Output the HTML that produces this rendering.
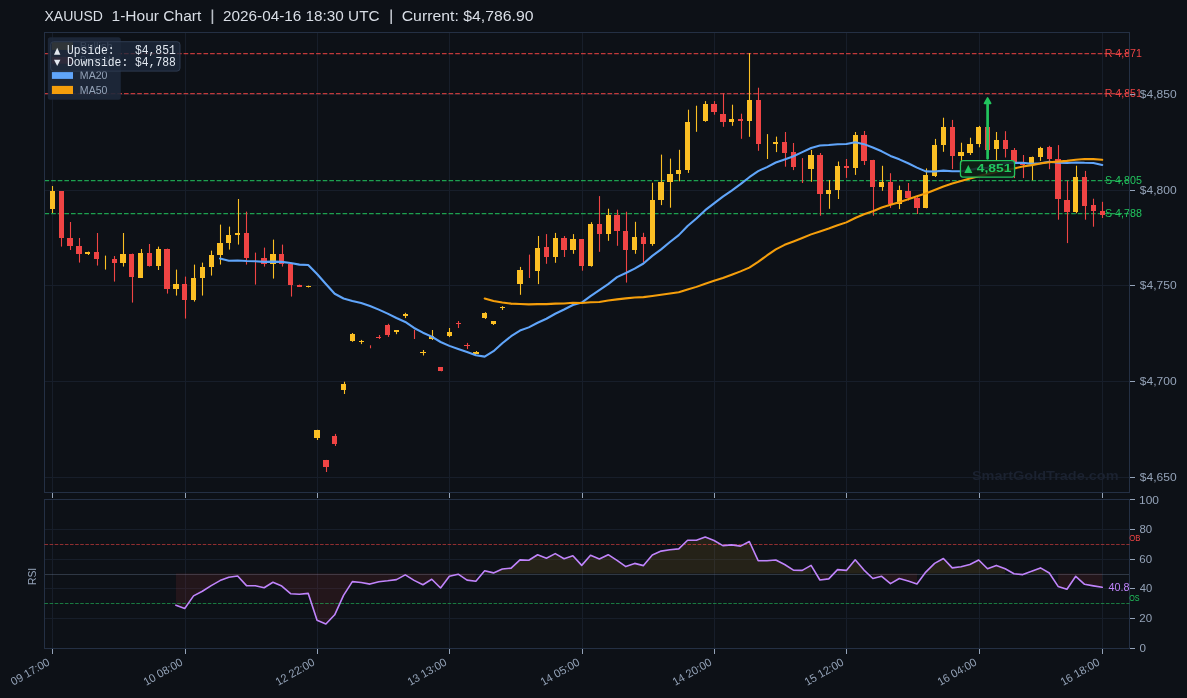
<!DOCTYPE html><html><head><meta charset="utf-8"><style>html,body{margin:0;padding:0;background:#0d1117;overflow:hidden}#w{will-change:transform;width:1187px;height:698px}svg{display:block}</style></head><body><div id="w">
<svg width="1187" height="698" viewBox="0 0 1187 698" font-family='"Liberation Sans", sans-serif'>
<rect x="0" y="0" width="1187" height="698" fill="#0d1117"/>
<g stroke="#171e2a" stroke-width="1">
<line x1="52.5" y1="32.5" x2="52.5" y2="492.5"/>
<line x1="52.5" y1="499.5" x2="52.5" y2="648.5"/>
<line x1="185.5" y1="32.5" x2="185.5" y2="492.5"/>
<line x1="185.5" y1="499.5" x2="185.5" y2="648.5"/>
<line x1="317.5" y1="32.5" x2="317.5" y2="492.5"/>
<line x1="317.5" y1="499.5" x2="317.5" y2="648.5"/>
<line x1="449.5" y1="32.5" x2="449.5" y2="492.5"/>
<line x1="449.5" y1="499.5" x2="449.5" y2="648.5"/>
<line x1="582.5" y1="32.5" x2="582.5" y2="492.5"/>
<line x1="582.5" y1="499.5" x2="582.5" y2="648.5"/>
<line x1="714.5" y1="32.5" x2="714.5" y2="492.5"/>
<line x1="714.5" y1="499.5" x2="714.5" y2="648.5"/>
<line x1="846.5" y1="32.5" x2="846.5" y2="492.5"/>
<line x1="846.5" y1="499.5" x2="846.5" y2="648.5"/>
<line x1="979.5" y1="32.5" x2="979.5" y2="492.5"/>
<line x1="979.5" y1="499.5" x2="979.5" y2="648.5"/>
<line x1="1102.5" y1="32.5" x2="1102.5" y2="492.5"/>
<line x1="1102.5" y1="499.5" x2="1102.5" y2="648.5"/>
<line x1="44.5" y1="94.5" x2="1129.5" y2="94.5"/>
<line x1="44.5" y1="190.5" x2="1129.5" y2="190.5"/>
<line x1="44.5" y1="285.5" x2="1129.5" y2="285.5"/>
<line x1="44.5" y1="381.5" x2="1129.5" y2="381.5"/>
<line x1="44.5" y1="477.5" x2="1129.5" y2="477.5"/>
<line x1="44.5" y1="618.5" x2="1129.5" y2="618.5"/>
<line x1="44.5" y1="588.5" x2="1129.5" y2="588.5"/>
<line x1="44.5" y1="559.5" x2="1129.5" y2="559.5"/>
<line x1="44.5" y1="529.5" x2="1129.5" y2="529.5"/>
</g>
<line x1="44.5" y1="574.5" x2="1129.5" y2="574.5" stroke="#64748b" stroke-opacity="0.4" stroke-width="1"/>
<polygon points="175.9,605.2 184.7,608.5 193.6,595.9 202.4,591.2 211.2,585.6 220.0,580.6 228.8,577.2 237.7,576.0 246.5,585.6 255.3,585.8 264.1,587.8 272.9,582.2 281.8,586.1 290.6,593.7 299.4,594.2 308.2,593.4 317.1,620.3 325.9,624.0 334.7,614.8 343.5,595.4 352.3,581.6 361.2,582.5 370.0,584.1 378.8,581.8 387.6,580.8 396.5,579.6 405.3,574.9 414.1,580.4 422.9,584.7 431.7,579.3 440.6,588.0 449.4,576.2 458.2,574.2 467.0,580.1 475.9,581.3 475.9,573.4 175.9,573.4" fill="#ef4444" fill-opacity="0.1"/>
<polygon points="819.9,580.0 828.7,578.9 828.7,573.4 819.9,573.4" fill="#ef4444" fill-opacity="0.1"/>
<polygon points="872.8,578.5 881.7,576.3 890.5,583.6 899.3,578.5 908.1,580.9 917.0,583.9 917.0,573.4 872.8,573.4" fill="#ef4444" fill-opacity="0.1"/>
<polygon points="1014.0,573.8 1022.8,574.6 1022.8,573.4 1014.0,573.4" fill="#ef4444" fill-opacity="0.1"/>
<polygon points="1058.1,586.4 1066.9,589.3 1075.8,576.3 1084.6,584.3 1093.4,585.9 1102.2,587.3 1102.2,573.4 1058.1,573.4" fill="#ef4444" fill-opacity="0.1"/>
<polygon points="484.7,570.7 493.5,572.9 502.3,569.0 511.1,568.1 520.0,559.9 528.8,560.2 537.6,554.8 546.4,558.2 555.3,553.6 564.1,558.7 572.9,555.7 581.7,565.4 590.5,555.3 599.4,559.0 608.2,554.7 617.0,560.4 625.8,566.6 634.7,563.4 643.5,565.6 652.3,555.0 661.1,551.1 669.9,549.8 678.8,548.9 687.6,540.2 696.4,540.2 705.2,537.1 714.0,540.5 722.9,545.6 731.7,544.9 740.5,546.1 749.3,541.5 758.2,560.7 767.0,560.7 775.8,560.0 784.6,564.5 793.4,570.1 802.3,570.4 811.1,565.4 811.1,573.4 484.7,573.4" fill="#fbbf24" fill-opacity="0.1"/>
<polygon points="837.6,569.6 846.4,570.4 855.2,559.8 864.0,570.1 864.0,573.4 837.6,573.4" fill="#fbbf24" fill-opacity="0.1"/>
<polygon points="925.8,572.1 934.6,563.4 943.4,558.5 952.2,567.9 961.1,566.7 969.9,564.5 978.7,560.0 987.5,568.8 996.4,565.4 1005.2,568.8 1005.2,573.4 925.8,573.4" fill="#fbbf24" fill-opacity="0.1"/>
<polygon points="1031.6,571.3 1040.5,567.9 1049.3,573.0 1049.3,573.4 1031.6,573.4" fill="#fbbf24" fill-opacity="0.1"/>
<line x1="44.5" y1="53.5" x2="1129.5" y2="53.5" stroke="#ef4444" stroke-opacity="0.8" stroke-width="1.25" stroke-dasharray="4.624 2.0"/>
<line x1="44.5" y1="93.5" x2="1129.5" y2="93.5" stroke="#ef4444" stroke-opacity="0.8" stroke-width="1.25" stroke-dasharray="4.624 2.0"/>
<line x1="44.5" y1="180.5" x2="1129.5" y2="180.5" stroke="#22c55e" stroke-opacity="0.8" stroke-width="1.25" stroke-dasharray="4.624 2.0"/>
<line x1="44.5" y1="213.5" x2="1129.5" y2="213.5" stroke="#22c55e" stroke-opacity="0.8" stroke-width="1.25" stroke-dasharray="4.624 2.0"/>
<text x="971.96" y="479.90" fill="#1b2230" font-size="12.5" font-family='"Liberation Sans", sans-serif' font-weight="bold" textLength="146.69" lengthAdjust="spacingAndGlyphs" xml:space="preserve">SmartGoldTrade.com</text>
<line x1="52.5" y1="186" x2="52.5" y2="213" stroke="#fbbf24" stroke-width="1.1"/>
<rect x="50" y="191" width="5" height="18" fill="#fbbf24"/>
<line x1="61.5" y1="191" x2="61.5" y2="246.6" stroke="#ef4444" stroke-width="1.1"/>
<rect x="59" y="191" width="5" height="47" fill="#ef4444"/>
<line x1="70.5" y1="222" x2="70.5" y2="250" stroke="#ef4444" stroke-width="1.1"/>
<rect x="67" y="238" width="6" height="8" fill="#ef4444"/>
<line x1="79.5" y1="238" x2="79.5" y2="262.6" stroke="#ef4444" stroke-width="1.1"/>
<rect x="76" y="246" width="6" height="8" fill="#ef4444"/>
<line x1="88.5" y1="251.6" x2="88.5" y2="255" stroke="#fbbf24" stroke-width="1.1"/>
<rect x="85" y="252" width="5" height="2" fill="#fbbf24"/>
<line x1="97.5" y1="233" x2="97.5" y2="265.6" stroke="#ef4444" stroke-width="1.1"/>
<rect x="94" y="252" width="5" height="7" fill="#ef4444"/>
<line x1="105.5" y1="255.6" x2="105.5" y2="269.6" stroke="#fbbf24" stroke-width="1.1"/>
<line x1="114.5" y1="256" x2="114.5" y2="281.6" stroke="#ef4444" stroke-width="1.1"/>
<rect x="112" y="259" width="5" height="4" fill="#ef4444"/>
<line x1="123.5" y1="233" x2="123.5" y2="266.6" stroke="#fbbf24" stroke-width="1.1"/>
<rect x="120" y="254" width="6" height="9" fill="#fbbf24"/>
<line x1="132.5" y1="253.6" x2="132.5" y2="302.6" stroke="#ef4444" stroke-width="1.1"/>
<rect x="129" y="254" width="5" height="23" fill="#ef4444"/>
<line x1="141.5" y1="249" x2="141.5" y2="278" stroke="#fbbf24" stroke-width="1.1"/>
<rect x="138" y="253" width="5" height="25" fill="#fbbf24"/>
<line x1="149.5" y1="244" x2="149.5" y2="266.6" stroke="#ef4444" stroke-width="1.1"/>
<rect x="147" y="253" width="5" height="13" fill="#ef4444"/>
<line x1="158.5" y1="246.6" x2="158.5" y2="270" stroke="#fbbf24" stroke-width="1.1"/>
<rect x="156" y="249" width="5" height="17" fill="#fbbf24"/>
<line x1="167.5" y1="248.6" x2="167.5" y2="293.6" stroke="#ef4444" stroke-width="1.1"/>
<rect x="164" y="249" width="6" height="40" fill="#ef4444"/>
<line x1="176.5" y1="269.6" x2="176.5" y2="295.6" stroke="#fbbf24" stroke-width="1.1"/>
<rect x="173" y="284" width="6" height="5" fill="#fbbf24"/>
<line x1="185.5" y1="276.6" x2="185.5" y2="318.6" stroke="#ef4444" stroke-width="1.1"/>
<rect x="182" y="284" width="5" height="16" fill="#ef4444"/>
<line x1="194.5" y1="264.6" x2="194.5" y2="301.6" stroke="#fbbf24" stroke-width="1.1"/>
<rect x="191" y="278" width="5" height="22" fill="#fbbf24"/>
<line x1="202.5" y1="262.6" x2="202.5" y2="295.6" stroke="#fbbf24" stroke-width="1.1"/>
<rect x="200" y="267" width="5" height="11" fill="#fbbf24"/>
<line x1="211.5" y1="250.6" x2="211.5" y2="275.6" stroke="#fbbf24" stroke-width="1.1"/>
<rect x="209" y="255" width="5" height="12" fill="#fbbf24"/>
<line x1="220.5" y1="224.6" x2="220.5" y2="264.6" stroke="#fbbf24" stroke-width="1.1"/>
<rect x="217" y="243" width="6" height="12" fill="#fbbf24"/>
<line x1="229.5" y1="226.6" x2="229.5" y2="249.6" stroke="#fbbf24" stroke-width="1.1"/>
<rect x="226" y="235" width="5" height="8" fill="#fbbf24"/>
<line x1="238.5" y1="199" x2="238.5" y2="244.6" stroke="#fbbf24" stroke-width="1.1"/>
<rect x="235" y="233" width="5" height="2" fill="#fbbf24"/>
<line x1="246.5" y1="211.6" x2="246.5" y2="264.6" stroke="#ef4444" stroke-width="1.1"/>
<rect x="244" y="233" width="5" height="25" fill="#ef4444"/>
<line x1="255.5" y1="252.6" x2="255.5" y2="284.6" stroke="#ef4444" stroke-width="1.1"/>
<line x1="264.5" y1="247.6" x2="264.5" y2="266.6" stroke="#ef4444" stroke-width="1.1"/>
<rect x="261" y="258" width="6" height="6" fill="#ef4444"/>
<line x1="273.5" y1="239.6" x2="273.5" y2="278.6" stroke="#fbbf24" stroke-width="1.1"/>
<rect x="270" y="254" width="6" height="10" fill="#fbbf24"/>
<line x1="282.5" y1="244.6" x2="282.5" y2="266.6" stroke="#ef4444" stroke-width="1.1"/>
<rect x="279" y="254" width="5" height="10" fill="#ef4444"/>
<line x1="291.5" y1="263.6" x2="291.5" y2="296.6" stroke="#ef4444" stroke-width="1.1"/>
<rect x="288" y="264" width="5" height="21" fill="#ef4444"/>
<line x1="299.5" y1="284.6" x2="299.5" y2="287" stroke="#ef4444" stroke-width="1.1"/>
<rect x="297" y="285" width="5" height="2" fill="#ef4444"/>
<line x1="308.5" y1="285.6" x2="308.5" y2="287.5" stroke="#fbbf24" stroke-width="1.1"/>
<rect x="306" y="286" width="5" height="1" fill="#fbbf24"/>
<line x1="317.5" y1="429.8" x2="317.5" y2="440" stroke="#fbbf24" stroke-width="1.1"/>
<rect x="314" y="430" width="6" height="8" fill="#fbbf24"/>
<line x1="326.5" y1="459.9" x2="326.5" y2="472" stroke="#ef4444" stroke-width="1.1"/>
<rect x="323" y="460" width="6" height="7" fill="#ef4444"/>
<line x1="335.5" y1="433.9" x2="335.5" y2="446" stroke="#ef4444" stroke-width="1.1"/>
<rect x="332" y="436" width="5" height="8" fill="#ef4444"/>
<line x1="344.5" y1="381.7" x2="344.5" y2="394" stroke="#fbbf24" stroke-width="1.1"/>
<rect x="341" y="384" width="5" height="6" fill="#fbbf24"/>
<line x1="352.5" y1="333" x2="352.5" y2="341.8" stroke="#fbbf24" stroke-width="1.1"/>
<rect x="350" y="334" width="5" height="7" fill="#fbbf24"/>
<line x1="361.5" y1="339.9" x2="361.5" y2="344.1" stroke="#fbbf24" stroke-width="1.1"/>
<rect x="359" y="341" width="5" height="1" fill="#fbbf24"/>
<line x1="370.5" y1="345.3" x2="370.5" y2="348.3" stroke="#ef4444" stroke-width="1.1"/>
<line x1="379.5" y1="335" x2="379.5" y2="339" stroke="#ef4444" stroke-width="1.1"/>
<rect x="376" y="337" width="5" height="1" fill="#ef4444"/>
<line x1="388.5" y1="323.8" x2="388.5" y2="336.9" stroke="#ef4444" stroke-width="1.1"/>
<rect x="385" y="325" width="5" height="10" fill="#ef4444"/>
<line x1="396.5" y1="330" x2="396.5" y2="334.2" stroke="#fbbf24" stroke-width="1.1"/>
<rect x="394" y="330" width="5" height="2" fill="#fbbf24"/>
<line x1="405.5" y1="312.8" x2="405.5" y2="318.1" stroke="#fbbf24" stroke-width="1.1"/>
<rect x="403" y="314" width="5" height="2" fill="#fbbf24"/>
<line x1="414.5" y1="330" x2="414.5" y2="339" stroke="#ef4444" stroke-width="1.1"/>
<line x1="423.5" y1="350" x2="423.5" y2="355.5" stroke="#fbbf24" stroke-width="1.1"/>
<rect x="420" y="352" width="6" height="1" fill="#fbbf24"/>
<line x1="432.5" y1="330" x2="432.5" y2="340" stroke="#fbbf24" stroke-width="1.1"/>
<rect x="429" y="336" width="5" height="3" fill="#fbbf24"/>
<line x1="441.5" y1="367.4" x2="441.5" y2="371.3" stroke="#ef4444" stroke-width="1.1"/>
<rect x="438" y="367" width="5" height="4" fill="#ef4444"/>
<line x1="449.5" y1="328" x2="449.5" y2="337.1" stroke="#fbbf24" stroke-width="1.1"/>
<rect x="447" y="332" width="5" height="4" fill="#fbbf24"/>
<line x1="458.5" y1="321" x2="458.5" y2="328" stroke="#ef4444" stroke-width="1.1"/>
<rect x="456" y="323" width="5" height="1" fill="#ef4444"/>
<line x1="467.5" y1="342.9" x2="467.5" y2="349.1" stroke="#ef4444" stroke-width="1.1"/>
<rect x="464" y="345" width="6" height="1" fill="#ef4444"/>
<line x1="476.5" y1="351" x2="476.5" y2="354.1" stroke="#fbbf24" stroke-width="1.1"/>
<rect x="473" y="352" width="6" height="2" fill="#fbbf24"/>
<line x1="485.5" y1="312.2" x2="485.5" y2="319" stroke="#fbbf24" stroke-width="1.1"/>
<rect x="482" y="313" width="5" height="5" fill="#fbbf24"/>
<line x1="493.5" y1="321" x2="493.5" y2="325" stroke="#fbbf24" stroke-width="1.1"/>
<rect x="491" y="321" width="5" height="3" fill="#fbbf24"/>
<line x1="502.5" y1="306.1" x2="502.5" y2="310" stroke="#fbbf24" stroke-width="1.1"/>
<rect x="500" y="307" width="5" height="1" fill="#fbbf24"/>
<line x1="511.5" y1="303" x2="511.5" y2="304.5" stroke="#ef4444" stroke-width="1.1"/>
<rect x="508" y="303" width="6" height="1" fill="#ef4444"/>
<line x1="520.5" y1="266.9" x2="520.5" y2="294.8" stroke="#fbbf24" stroke-width="1.1"/>
<rect x="517" y="270" width="6" height="14" fill="#fbbf24"/>
<line x1="529.5" y1="254.6" x2="529.5" y2="278" stroke="#ef4444" stroke-width="1.1"/>
<line x1="538.5" y1="236" x2="538.5" y2="284.1" stroke="#fbbf24" stroke-width="1.1"/>
<rect x="535" y="248" width="5" height="23" fill="#fbbf24"/>
<line x1="546.5" y1="234.1" x2="546.5" y2="263.8" stroke="#ef4444" stroke-width="1.1"/>
<rect x="544" y="247" width="5" height="10" fill="#ef4444"/>
<line x1="555.5" y1="232.9" x2="555.5" y2="262.8" stroke="#fbbf24" stroke-width="1.1"/>
<rect x="553" y="238" width="5" height="19" fill="#fbbf24"/>
<line x1="564.5" y1="236" x2="564.5" y2="257" stroke="#ef4444" stroke-width="1.1"/>
<rect x="561" y="238" width="6" height="12" fill="#ef4444"/>
<line x1="573.5" y1="234.1" x2="573.5" y2="253.8" stroke="#fbbf24" stroke-width="1.1"/>
<rect x="570" y="239" width="6" height="11" fill="#fbbf24"/>
<line x1="582.5" y1="239.2" x2="582.5" y2="270.7" stroke="#ef4444" stroke-width="1.1"/>
<rect x="579" y="239" width="5" height="27" fill="#ef4444"/>
<line x1="591.5" y1="222.2" x2="591.5" y2="266.7" stroke="#fbbf24" stroke-width="1.1"/>
<rect x="588" y="224" width="5" height="42" fill="#fbbf24"/>
<line x1="599.5" y1="196.1" x2="599.5" y2="251.8" stroke="#ef4444" stroke-width="1.1"/>
<rect x="597" y="224" width="5" height="10" fill="#ef4444"/>
<line x1="608.5" y1="208.7" x2="608.5" y2="240.8" stroke="#fbbf24" stroke-width="1.1"/>
<rect x="606" y="215" width="5" height="19" fill="#fbbf24"/>
<line x1="617.5" y1="209.7" x2="617.5" y2="245.8" stroke="#ef4444" stroke-width="1.1"/>
<rect x="614" y="215" width="6" height="16" fill="#ef4444"/>
<line x1="626.5" y1="211.7" x2="626.5" y2="282.6" stroke="#ef4444" stroke-width="1.1"/>
<rect x="623" y="231" width="5" height="19" fill="#ef4444"/>
<line x1="635.5" y1="221.8" x2="635.5" y2="253.8" stroke="#fbbf24" stroke-width="1.1"/>
<rect x="632" y="237" width="5" height="13" fill="#fbbf24"/>
<line x1="643.5" y1="232.8" x2="643.5" y2="262.5" stroke="#ef4444" stroke-width="1.1"/>
<rect x="641" y="237" width="5" height="7" fill="#ef4444"/>
<line x1="652.5" y1="182.7" x2="652.5" y2="245.8" stroke="#fbbf24" stroke-width="1.1"/>
<rect x="650" y="200" width="5" height="44" fill="#fbbf24"/>
<line x1="661.5" y1="154.6" x2="661.5" y2="205.1" stroke="#fbbf24" stroke-width="1.1"/>
<rect x="658" y="182" width="6" height="18" fill="#fbbf24"/>
<line x1="670.5" y1="158.6" x2="670.5" y2="207.7" stroke="#fbbf24" stroke-width="1.1"/>
<rect x="667" y="174" width="6" height="8" fill="#fbbf24"/>
<line x1="679.5" y1="149.8" x2="679.5" y2="181.3" stroke="#fbbf24" stroke-width="1.1"/>
<rect x="676" y="170" width="5" height="4" fill="#fbbf24"/>
<line x1="688.5" y1="109.7" x2="688.5" y2="172.9" stroke="#fbbf24" stroke-width="1.1"/>
<rect x="685" y="122" width="5" height="48" fill="#fbbf24"/>
<line x1="696.5" y1="105.7" x2="696.5" y2="131.8" stroke="#fbbf24" stroke-width="1.1"/>
<line x1="705.5" y1="101.1" x2="705.5" y2="121.8" stroke="#fbbf24" stroke-width="1.1"/>
<rect x="703" y="104" width="5" height="17" fill="#fbbf24"/>
<line x1="714.5" y1="101.1" x2="714.5" y2="114.7" stroke="#ef4444" stroke-width="1.1"/>
<rect x="711" y="104" width="6" height="8" fill="#ef4444"/>
<line x1="723.5" y1="93.1" x2="723.5" y2="126.8" stroke="#ef4444" stroke-width="1.1"/>
<rect x="720" y="114" width="6" height="8" fill="#ef4444"/>
<line x1="732.5" y1="104.7" x2="732.5" y2="125.8" stroke="#fbbf24" stroke-width="1.1"/>
<rect x="729" y="119" width="5" height="3" fill="#fbbf24"/>
<line x1="741.5" y1="113.7" x2="741.5" y2="138.8" stroke="#ef4444" stroke-width="1.1"/>
<rect x="738" y="119" width="5" height="2" fill="#ef4444"/>
<line x1="749.5" y1="53" x2="749.5" y2="136.8" stroke="#fbbf24" stroke-width="1.1"/>
<rect x="747" y="100" width="5" height="21" fill="#fbbf24"/>
<line x1="758.5" y1="87.7" x2="758.5" y2="150.8" stroke="#ef4444" stroke-width="1.1"/>
<rect x="756" y="100" width="5" height="44" fill="#ef4444"/>
<line x1="767.5" y1="134.1" x2="767.5" y2="159" stroke="#fbbf24" stroke-width="1.1"/>
<line x1="776.5" y1="136.6" x2="776.5" y2="152.1" stroke="#fbbf24" stroke-width="1.1"/>
<rect x="773" y="142" width="5" height="2" fill="#fbbf24"/>
<line x1="785.5" y1="132" x2="785.5" y2="166.7" stroke="#ef4444" stroke-width="1.1"/>
<rect x="782" y="142" width="5" height="11" fill="#ef4444"/>
<line x1="793.5" y1="143" x2="793.5" y2="170.1" stroke="#ef4444" stroke-width="1.1"/>
<rect x="791" y="152" width="5" height="15" fill="#ef4444"/>
<line x1="802.5" y1="158.1" x2="802.5" y2="183" stroke="#ef4444" stroke-width="1.1"/>
<line x1="811.5" y1="149.9" x2="811.5" y2="181.8" stroke="#fbbf24" stroke-width="1.1"/>
<rect x="808" y="155" width="6" height="14" fill="#fbbf24"/>
<line x1="820.5" y1="153" x2="820.5" y2="215.7" stroke="#ef4444" stroke-width="1.1"/>
<rect x="817" y="155" width="6" height="39" fill="#ef4444"/>
<line x1="829.5" y1="180.1" x2="829.5" y2="208.8" stroke="#fbbf24" stroke-width="1.1"/>
<rect x="826" y="190" width="5" height="4" fill="#fbbf24"/>
<line x1="838.5" y1="161.5" x2="838.5" y2="199" stroke="#fbbf24" stroke-width="1.1"/>
<rect x="835" y="166" width="5" height="24" fill="#fbbf24"/>
<line x1="846.5" y1="159" x2="846.5" y2="177.9" stroke="#ef4444" stroke-width="1.1"/>
<rect x="844" y="166" width="5" height="2" fill="#ef4444"/>
<line x1="855.5" y1="132" x2="855.5" y2="174.9" stroke="#fbbf24" stroke-width="1.1"/>
<rect x="853" y="135" width="5" height="33" fill="#fbbf24"/>
<line x1="864.5" y1="131" x2="864.5" y2="165" stroke="#ef4444" stroke-width="1.1"/>
<rect x="861" y="135" width="6" height="26" fill="#ef4444"/>
<line x1="873.5" y1="159.8" x2="873.5" y2="215.7" stroke="#ef4444" stroke-width="1.1"/>
<rect x="870" y="160" width="5" height="27" fill="#ef4444"/>
<line x1="882.5" y1="165.8" x2="882.5" y2="190.8" stroke="#fbbf24" stroke-width="1.1"/>
<rect x="879" y="182" width="5" height="5" fill="#fbbf24"/>
<line x1="890.5" y1="173.2" x2="890.5" y2="207.9" stroke="#ef4444" stroke-width="1.1"/>
<rect x="888" y="182" width="5" height="22" fill="#ef4444"/>
<line x1="899.5" y1="185.6" x2="899.5" y2="209.1" stroke="#fbbf24" stroke-width="1.1"/>
<rect x="897" y="190" width="5" height="14" fill="#fbbf24"/>
<line x1="908.5" y1="183" x2="908.5" y2="200.5" stroke="#ef4444" stroke-width="1.1"/>
<rect x="905" y="191" width="6" height="7" fill="#ef4444"/>
<line x1="917.5" y1="197.1" x2="917.5" y2="214" stroke="#ef4444" stroke-width="1.1"/>
<rect x="914" y="198" width="6" height="10" fill="#ef4444"/>
<line x1="926.5" y1="168.4" x2="926.5" y2="208.3" stroke="#fbbf24" stroke-width="1.1"/>
<rect x="923" y="175" width="5" height="33" fill="#fbbf24"/>
<line x1="935.5" y1="138.9" x2="935.5" y2="177" stroke="#fbbf24" stroke-width="1.1"/>
<rect x="932" y="145" width="5" height="31" fill="#fbbf24"/>
<line x1="943.5" y1="117.7" x2="943.5" y2="151.8" stroke="#fbbf24" stroke-width="1.1"/>
<rect x="941" y="127" width="5" height="18" fill="#fbbf24"/>
<line x1="952.5" y1="119.9" x2="952.5" y2="169.1" stroke="#ef4444" stroke-width="1.1"/>
<rect x="950" y="127" width="5" height="29" fill="#ef4444"/>
<line x1="961.5" y1="142.7" x2="961.5" y2="165" stroke="#fbbf24" stroke-width="1.1"/>
<rect x="958" y="152" width="6" height="4" fill="#fbbf24"/>
<line x1="970.5" y1="137.7" x2="970.5" y2="155" stroke="#fbbf24" stroke-width="1.1"/>
<rect x="967" y="144" width="6" height="9" fill="#fbbf24"/>
<line x1="979.5" y1="125.9" x2="979.5" y2="147.3" stroke="#fbbf24" stroke-width="1.1"/>
<rect x="976" y="127" width="5" height="17" fill="#fbbf24"/>
<line x1="988.5" y1="127" x2="988.5" y2="152" stroke="#ef4444" stroke-width="1.1"/>
<rect x="985" y="127" width="5" height="23" fill="#ef4444"/>
<line x1="996.5" y1="132" x2="996.5" y2="160.5" stroke="#fbbf24" stroke-width="1.1"/>
<rect x="994" y="140" width="5" height="9" fill="#fbbf24"/>
<line x1="1005.5" y1="131.2" x2="1005.5" y2="157.5" stroke="#ef4444" stroke-width="1.1"/>
<rect x="1003" y="140" width="5" height="9" fill="#ef4444"/>
<line x1="1014.5" y1="148" x2="1014.5" y2="178.1" stroke="#ef4444" stroke-width="1.1"/>
<rect x="1011" y="150" width="6" height="12" fill="#ef4444"/>
<line x1="1023.5" y1="155" x2="1023.5" y2="178.1" stroke="#ef4444" stroke-width="1.1"/>
<rect x="1020" y="164" width="5" height="1" fill="#ef4444"/>
<line x1="1032.5" y1="156.6" x2="1032.5" y2="180.3" stroke="#fbbf24" stroke-width="1.1"/>
<rect x="1029" y="157" width="5" height="6" fill="#fbbf24"/>
<line x1="1040.5" y1="146.8" x2="1040.5" y2="160.9" stroke="#fbbf24" stroke-width="1.1"/>
<rect x="1038" y="148" width="5" height="9" fill="#fbbf24"/>
<line x1="1049.5" y1="145.8" x2="1049.5" y2="169.2" stroke="#ef4444" stroke-width="1.1"/>
<rect x="1047" y="147" width="5" height="12" fill="#ef4444"/>
<line x1="1058.5" y1="145.1" x2="1058.5" y2="219.7" stroke="#ef4444" stroke-width="1.1"/>
<rect x="1055" y="159" width="6" height="40" fill="#ef4444"/>
<line x1="1067.5" y1="180.7" x2="1067.5" y2="243.1" stroke="#ef4444" stroke-width="1.1"/>
<rect x="1064" y="200" width="6" height="12" fill="#ef4444"/>
<line x1="1076.5" y1="165.7" x2="1076.5" y2="213.3" stroke="#fbbf24" stroke-width="1.1"/>
<rect x="1073" y="177" width="5" height="35" fill="#fbbf24"/>
<line x1="1085.5" y1="170.9" x2="1085.5" y2="219.7" stroke="#ef4444" stroke-width="1.1"/>
<rect x="1082" y="177" width="5" height="29" fill="#ef4444"/>
<line x1="1093.5" y1="198.7" x2="1093.5" y2="226.7" stroke="#ef4444" stroke-width="1.1"/>
<rect x="1091" y="205" width="5" height="6" fill="#ef4444"/>
<line x1="1102.5" y1="201.8" x2="1102.5" y2="218" stroke="#ef4444" stroke-width="1.1"/>
<rect x="1100" y="211" width="5" height="4" fill="#ef4444"/>
<polyline points="220.02,258.55 228.84,260.75 237.66,260.48 246.48,261.08 255.31,261.28 264.13,261.88 272.95,261.63 281.77,261.88 290.59,262.98 299.42,264.63 308.24,265.08 317.06,273.94 325.88,283.99 334.70,293.76 343.53,298.53 352.35,301.02 361.17,303.09 369.99,306.05 378.81,309.62 387.64,313.63 396.46,317.99 405.28,321.95 414.10,327.97 422.92,332.69 431.75,336.60 440.57,341.99 449.39,345.88 458.21,348.92 467.03,352.00 475.86,355.26 484.68,356.64 493.50,351.20 502.32,343.20 511.14,336.23 519.97,330.52 528.79,327.39 537.61,322.75 546.43,318.76 555.25,313.76 564.08,309.51 572.90,304.97 581.72,302.56 590.54,296.09 599.36,290.19 608.19,284.13 617.01,277.11 625.83,273.02 634.65,268.64 643.47,263.52 652.30,255.91 661.12,249.34 669.94,241.97 678.76,235.11 687.58,225.97 696.41,218.54 705.23,210.19 714.05,203.37 722.87,196.61 731.69,190.64 740.52,184.19 749.34,177.21 758.16,171.10 766.98,167.10 775.80,162.50 784.63,159.40 793.45,156.19 802.27,152.14 811.09,148.06 819.91,145.56 828.74,145.05 837.56,144.24 846.38,143.94 855.20,142.19 864.02,144.15 872.85,147.43 881.67,151.32 890.49,155.93 899.31,159.34 908.13,163.28 916.96,167.64 925.78,171.39 934.60,171.44 943.42,170.60 952.24,171.30 961.07,171.26 969.89,170.12 978.71,168.02 987.53,167.78 996.35,165.09 1005.18,163.06 1014.00,162.91 1022.82,162.79 1031.64,163.88 1040.46,163.23 1049.29,161.83 1058.11,162.68 1066.93,163.08 1075.75,162.43 1084.57,162.82 1093.40,162.97 1102.22,164.98" fill="none" stroke="#60a5fa" stroke-width="2.08" stroke-linejoin="round" stroke-linecap="round"/>
<polyline points="484.68,298.49 493.50,301.09 502.32,302.47 511.14,303.64 519.97,303.97 528.79,304.36 537.61,304.15 546.43,304.12 555.25,303.63 564.08,303.55 572.90,302.81 581.72,303.07 590.54,302.23 599.36,301.93 608.19,300.46 617.01,299.39 625.83,298.40 634.65,297.58 643.47,297.12 652.30,296.03 661.12,294.80 669.94,293.57 678.76,292.32 687.58,289.60 696.41,286.87 705.23,283.68 714.05,280.85 722.87,278.01 731.69,274.69 740.52,271.38 749.34,267.66 758.16,261.94 766.98,255.47 775.80,249.43 784.63,244.80 793.45,241.46 802.27,238.02 811.09,234.38 819.91,231.50 828.74,228.59 837.56,225.30 846.38,222.37 855.20,218.01 864.02,214.19 872.85,211.21 881.67,207.42 890.49,204.87 899.31,202.18 908.13,199.21 916.96,196.32 925.78,193.56 934.60,190.03 943.42,186.43 952.24,183.46 961.07,181.10 969.89,178.55 978.71,176.13 987.53,173.99 996.35,172.03 1005.18,170.01 1014.00,168.48 1022.82,166.46 1031.64,165.12 1040.46,163.40 1049.29,162.29 1058.11,161.65 1066.93,160.89 1075.75,159.69 1084.57,158.93 1093.40,159.15 1102.22,159.82" fill="none" stroke="#f59e0b" stroke-width="2.08" stroke-linejoin="round" stroke-linecap="round"/>
<text x="1104.65" y="57.40" fill="#ef4444" font-size="11.2" font-family='"Liberation Sans", sans-serif' textLength="37.26" lengthAdjust="spacingAndGlyphs" xml:space="preserve">R 4,871</text>
<text x="1104.65" y="97.40" fill="#ef4444" font-size="11.2" font-family='"Liberation Sans", sans-serif' textLength="37.26" lengthAdjust="spacingAndGlyphs" xml:space="preserve">R 4,851</text>
<text x="1105.02" y="184.40" fill="#22c55e" font-size="11.2" font-family='"Liberation Sans", sans-serif' textLength="36.83" lengthAdjust="spacingAndGlyphs" xml:space="preserve">S 4,805</text>
<text x="1105.02" y="217.40" fill="#22c55e" font-size="11.2" font-family='"Liberation Sans", sans-serif' textLength="36.83" lengthAdjust="spacingAndGlyphs" xml:space="preserve">S 4,788</text>
<line x1="987.6" y1="158.3" x2="987.6" y2="102" stroke="#22c55e" stroke-width="2.7" stroke-linecap="round"/>
<path d="M987.6,97.9 L990.7,103.4 L984.5,103.4 Z" fill="#22c55e" stroke="#22c55e" stroke-width="1.6" stroke-linejoin="round"/>
<rect x="960.45" y="160.65" width="54.1" height="16.4" rx="2.5" fill="#0f2216" fill-opacity="0.88" stroke="#22c55e" stroke-width="1.3"/>
<path d="M968.3,165.1 L972.3,173.1 L964.3,173.1 Z" fill="#22c55e"/>
<text x="976.69" y="171.70" fill="#22c55e" font-size="11.2" font-family='"Liberation Sans", sans-serif' font-weight="bold" textLength="34.79" lengthAdjust="spacingAndGlyphs" xml:space="preserve">4,851</text>
<rect x="47.8" y="37.2" width="73" height="62.5" rx="2.5" fill="#1e293b" fill-opacity="0.9"/>
<rect x="51.9" y="42.2" width="21.1" height="7.7" fill="#fbbf24" fill-opacity="0.4"/>
<text x="79.81" y="49.65" fill="#94a3b8" font-size="10" font-family='"Liberation Sans", sans-serif' textLength="32.93" lengthAdjust="spacingAndGlyphs" xml:space="preserve">Bullish</text>
<rect x="51.9" y="56.9" width="21.1" height="6.8" fill="#ef4444" fill-opacity="0.35"/>
<text x="79.90" y="63.90" fill="#94a3b8" font-size="10" font-family='"Liberation Sans", sans-serif' textLength="33.96" lengthAdjust="spacingAndGlyphs" xml:space="preserve">Bearish</text>
<rect x="51.9" y="72.1" width="21.1" height="6.8" fill="#60a5fa" fill-opacity="1"/>
<text x="79.86" y="79.10" fill="#94a3b8" font-size="10" font-family='"Liberation Sans", sans-serif' textLength="27.54" lengthAdjust="spacingAndGlyphs" xml:space="preserve">MA20</text>
<rect x="51.9" y="85.9" width="21.1" height="8.1" fill="#f59e0b" fill-opacity="1"/>
<text x="79.86" y="93.55" fill="#94a3b8" font-size="10" font-family='"Liberation Sans", sans-serif' textLength="27.54" lengthAdjust="spacingAndGlyphs" xml:space="preserve">MA50</text>
<rect x="50.6" y="41.7" width="129.4" height="29.4" rx="3" fill="#1e293b" fill-opacity="0.78" stroke="#2e3b50" stroke-width="1"/>
<path d="M57.2,47.8 L60.4,54.7 L54,54.7 Z" fill="#e2e8f0"/>
<path d="M57.2,65.9 L60.4,59.8 L54,59.8 Z" fill="#e2e8f0"/>
<text x="67.01" y="53.70" fill="#e2e8f0" font-size="12.2" font-family='"Liberation Mono", monospace' textLength="108.77" lengthAdjust="spacingAndGlyphs" xml:space="preserve">Upside:   $4,851</text>
<text x="66.89" y="65.80" fill="#e2e8f0" font-size="12.2" font-family='"Liberation Mono", monospace' textLength="109.06" lengthAdjust="spacingAndGlyphs" xml:space="preserve">Downside: $4,788</text>
<rect x="44.5" y="32.5" width="1085.0" height="460.0" fill="none" stroke="#243044" stroke-width="1"/>
<rect x="44.5" y="499.5" width="1085.0" height="149.0" fill="none" stroke="#243044" stroke-width="1"/>
<g stroke="#94a3b8" stroke-width="1">
<line x1="52.5" y1="493.0" x2="52.5" y2="498.0"/>
<line x1="52.5" y1="649.0" x2="52.5" y2="654.0"/>
<line x1="185.5" y1="493.0" x2="185.5" y2="498.0"/>
<line x1="185.5" y1="649.0" x2="185.5" y2="654.0"/>
<line x1="317.5" y1="493.0" x2="317.5" y2="498.0"/>
<line x1="317.5" y1="649.0" x2="317.5" y2="654.0"/>
<line x1="449.5" y1="493.0" x2="449.5" y2="498.0"/>
<line x1="449.5" y1="649.0" x2="449.5" y2="654.0"/>
<line x1="582.5" y1="493.0" x2="582.5" y2="498.0"/>
<line x1="582.5" y1="649.0" x2="582.5" y2="654.0"/>
<line x1="714.5" y1="493.0" x2="714.5" y2="498.0"/>
<line x1="714.5" y1="649.0" x2="714.5" y2="654.0"/>
<line x1="846.5" y1="493.0" x2="846.5" y2="498.0"/>
<line x1="846.5" y1="649.0" x2="846.5" y2="654.0"/>
<line x1="979.5" y1="493.0" x2="979.5" y2="498.0"/>
<line x1="979.5" y1="649.0" x2="979.5" y2="654.0"/>
<line x1="1102.5" y1="493.0" x2="1102.5" y2="498.0"/>
<line x1="1102.5" y1="649.0" x2="1102.5" y2="654.0"/>
<line x1="1130.0" y1="94.5" x2="1135.0" y2="94.5"/>
<line x1="1130.0" y1="190.5" x2="1135.0" y2="190.5"/>
<line x1="1130.0" y1="285.5" x2="1135.0" y2="285.5"/>
<line x1="1130.0" y1="381.5" x2="1135.0" y2="381.5"/>
<line x1="1130.0" y1="477.5" x2="1135.0" y2="477.5"/>
<line x1="1130.0" y1="499.5" x2="1135.0" y2="499.5"/>
<line x1="1130.0" y1="529.5" x2="1135.0" y2="529.5"/>
<line x1="1130.0" y1="559.5" x2="1135.0" y2="559.5"/>
<line x1="1130.0" y1="588.5" x2="1135.0" y2="588.5"/>
<line x1="1130.0" y1="618.5" x2="1135.0" y2="618.5"/>
<line x1="1130.0" y1="648.5" x2="1135.0" y2="648.5"/>
</g>
<text x="1139.78" y="97.90" fill="#94a3b8" font-size="11.3" font-family='"Liberation Sans", sans-serif' textLength="36.83" lengthAdjust="spacingAndGlyphs" xml:space="preserve">$4,850</text>
<text x="1139.78" y="193.90" fill="#94a3b8" font-size="11.3" font-family='"Liberation Sans", sans-serif' textLength="36.83" lengthAdjust="spacingAndGlyphs" xml:space="preserve">$4,800</text>
<text x="1139.78" y="288.90" fill="#94a3b8" font-size="11.3" font-family='"Liberation Sans", sans-serif' textLength="36.83" lengthAdjust="spacingAndGlyphs" xml:space="preserve">$4,750</text>
<text x="1139.78" y="384.90" fill="#94a3b8" font-size="11.3" font-family='"Liberation Sans", sans-serif' textLength="36.83" lengthAdjust="spacingAndGlyphs" xml:space="preserve">$4,700</text>
<text x="1139.78" y="480.90" fill="#94a3b8" font-size="11.3" font-family='"Liberation Sans", sans-serif' textLength="36.83" lengthAdjust="spacingAndGlyphs" xml:space="preserve">$4,650</text>
<text x="1139.00" y="503.50" fill="#94a3b8" font-size="11.3" font-family='"Liberation Sans", sans-serif' textLength="19.96" lengthAdjust="spacingAndGlyphs" xml:space="preserve">100</text>
<text x="1139.38" y="533.00" fill="#94a3b8" font-size="11.3" font-family='"Liberation Sans", sans-serif' textLength="12.74" lengthAdjust="spacingAndGlyphs" xml:space="preserve">80</text>
<text x="1139.32" y="563.00" fill="#94a3b8" font-size="11.3" font-family='"Liberation Sans", sans-serif' textLength="12.81" lengthAdjust="spacingAndGlyphs" xml:space="preserve">60</text>
<text x="1139.68" y="592.00" fill="#94a3b8" font-size="11.3" font-family='"Liberation Sans", sans-serif' textLength="12.44" lengthAdjust="spacingAndGlyphs" xml:space="preserve">40</text>
<text x="1139.32" y="622.00" fill="#94a3b8" font-size="11.3" font-family='"Liberation Sans", sans-serif' textLength="12.81" lengthAdjust="spacingAndGlyphs" xml:space="preserve">20</text>
<text x="1139.43" y="652.00" fill="#94a3b8" font-size="11.3" font-family='"Liberation Sans", sans-serif' textLength="6.49" lengthAdjust="spacingAndGlyphs" xml:space="preserve">0</text>
<line x1="44.5" y1="544.5" x2="1129.5" y2="544.5" stroke="#ef4444" stroke-opacity="0.6" stroke-width="0.97" stroke-dasharray="3.57 1.533"/>
<line x1="44.5" y1="603.5" x2="1129.5" y2="603.5" stroke="#22c55e" stroke-opacity="0.6" stroke-width="0.97" stroke-dasharray="3.57 1.533"/>
<polyline points="175.91,605.20 184.73,608.50 193.55,595.90 202.37,591.20 211.20,585.60 220.02,580.60 228.84,577.20 237.66,576.00 246.48,585.60 255.31,585.80 264.13,587.80 272.95,582.20 281.77,586.10 290.59,593.70 299.42,594.20 308.24,593.40 317.06,620.30 325.88,624.00 334.70,614.80 343.53,595.40 352.35,581.60 361.17,582.50 369.99,584.10 378.81,581.80 387.64,580.80 396.46,579.60 405.28,574.90 414.10,580.40 422.92,584.70 431.75,579.30 440.57,588.00 449.39,576.20 458.21,574.20 467.03,580.10 475.86,581.30 484.68,570.70 493.50,572.90 502.32,569.00 511.14,568.10 519.97,559.90 528.79,560.20 537.61,554.80 546.43,558.20 555.25,553.60 564.08,558.70 572.90,555.70 581.72,565.40 590.54,555.30 599.36,559.00 608.19,554.70 617.01,560.40 625.83,566.60 634.65,563.40 643.47,565.60 652.30,555.00 661.12,551.10 669.94,549.80 678.76,548.90 687.58,540.20 696.41,540.20 705.23,537.10 714.05,540.50 722.87,545.60 731.69,544.90 740.52,546.10 749.34,541.50 758.16,560.70 766.98,560.70 775.80,560.00 784.63,564.50 793.45,570.10 802.27,570.40 811.09,565.40 819.91,580.00 828.74,578.90 837.56,569.60 846.38,570.40 855.20,559.80 864.02,570.10 872.85,578.50 881.67,576.30 890.49,583.60 899.31,578.50 908.13,580.90 916.96,583.90 925.78,572.10 934.60,563.40 943.42,558.50 952.24,567.90 961.07,566.70 969.89,564.50 978.71,560.00 987.53,568.80 996.35,565.40 1005.18,568.80 1014.00,573.80 1022.82,574.60 1031.64,571.30 1040.46,567.90 1049.29,573.00 1058.11,586.40 1066.93,589.30 1075.75,576.30 1084.57,584.30 1093.40,585.90 1102.22,587.30" fill="none" stroke="#c084fc" stroke-width="1.6" stroke-linejoin="round" stroke-linecap="round"/>
<text x="1108.38" y="591.00" fill="#c084fc" font-size="11.2" font-family='"Liberation Sans", sans-serif' textLength="21.06" lengthAdjust="spacingAndGlyphs" xml:space="preserve">40.8</text>
<text x="1129.15" y="540.70" fill="#ef4444" font-size="9.3" font-family='"Liberation Sans", sans-serif' textLength="11.24" lengthAdjust="spacingAndGlyphs" xml:space="preserve">OB</text>
<text x="1129.18" y="600.90" fill="#22c55e" font-size="9.3" font-family='"Liberation Sans", sans-serif' textLength="10.34" lengthAdjust="spacingAndGlyphs" xml:space="preserve">OS</text>
<text x="-0.83" y="0.00" fill="#94a3b8" font-size="11.6" font-family='"Liberation Sans", sans-serif' textLength="17.28" lengthAdjust="spacingAndGlyphs" xml:space="preserve" transform="translate(36,584.2) rotate(-90)">RSI</text>
<text x="-42.24" y="0.00" fill="#94a3b8" font-size="11.3" font-family='"Liberation Sans", sans-serif' textLength="42.65" lengthAdjust="spacingAndGlyphs" xml:space="preserve" transform="translate(50.20,664.7) rotate(-30)">09 17:00</text>
<text x="-42.63" y="0.00" fill="#94a3b8" font-size="11.3" font-family='"Liberation Sans", sans-serif' textLength="43.05" lengthAdjust="spacingAndGlyphs" xml:space="preserve" transform="translate(183.20,664.7) rotate(-30)">10 08:00</text>
<text x="-42.63" y="0.00" fill="#94a3b8" font-size="11.3" font-family='"Liberation Sans", sans-serif' textLength="43.05" lengthAdjust="spacingAndGlyphs" xml:space="preserve" transform="translate(315.20,664.7) rotate(-30)">12 22:00</text>
<text x="-42.63" y="0.00" fill="#94a3b8" font-size="11.3" font-family='"Liberation Sans", sans-serif' textLength="43.05" lengthAdjust="spacingAndGlyphs" xml:space="preserve" transform="translate(447.20,664.7) rotate(-30)">13 13:00</text>
<text x="-42.63" y="0.00" fill="#94a3b8" font-size="11.3" font-family='"Liberation Sans", sans-serif' textLength="43.05" lengthAdjust="spacingAndGlyphs" xml:space="preserve" transform="translate(580.20,664.7) rotate(-30)">14 05:00</text>
<text x="-42.63" y="0.00" fill="#94a3b8" font-size="11.3" font-family='"Liberation Sans", sans-serif' textLength="43.05" lengthAdjust="spacingAndGlyphs" xml:space="preserve" transform="translate(712.20,664.7) rotate(-30)">14 20:00</text>
<text x="-42.63" y="0.00" fill="#94a3b8" font-size="11.3" font-family='"Liberation Sans", sans-serif' textLength="43.05" lengthAdjust="spacingAndGlyphs" xml:space="preserve" transform="translate(844.20,664.7) rotate(-30)">15 12:00</text>
<text x="-42.63" y="0.00" fill="#94a3b8" font-size="11.3" font-family='"Liberation Sans", sans-serif' textLength="43.05" lengthAdjust="spacingAndGlyphs" xml:space="preserve" transform="translate(977.20,664.7) rotate(-30)">16 04:00</text>
<text x="-42.63" y="0.00" fill="#94a3b8" font-size="11.3" font-family='"Liberation Sans", sans-serif' textLength="43.05" lengthAdjust="spacingAndGlyphs" xml:space="preserve" transform="translate(1100.20,664.7) rotate(-30)">16 18:00</text>
<text x="44.45" y="20.90" fill="#d9dee6" font-size="14.7" font-family='"Liberation Sans", sans-serif' textLength="58.52" lengthAdjust="spacingAndGlyphs" xml:space="preserve">XAUUSD</text>
<text x="111.53" y="20.90" fill="#d9dee6" font-size="14.7" font-family='"Liberation Sans", sans-serif' textLength="89.82" lengthAdjust="spacingAndGlyphs" xml:space="preserve">1-Hour Chart</text>
<text x="223.03" y="20.90" fill="#d9dee6" font-size="14.7" font-family='"Liberation Sans", sans-serif' textLength="156.56" lengthAdjust="spacingAndGlyphs" xml:space="preserve">2026-04-16 18:30 UTC</text>
<text x="401.71" y="20.90" fill="#d9dee6" font-size="14.7" font-family='"Liberation Sans", sans-serif' textLength="131.83" lengthAdjust="spacingAndGlyphs" xml:space="preserve">Current: $4,786.90</text>
<rect x="211.6" y="9.5" width="1.6" height="14.5" fill="#d9dee6" fill-opacity="0.85"/>
<rect x="390.4" y="9.5" width="1.6" height="14.5" fill="#d9dee6" fill-opacity="0.85"/>
</svg></div></body></html>
